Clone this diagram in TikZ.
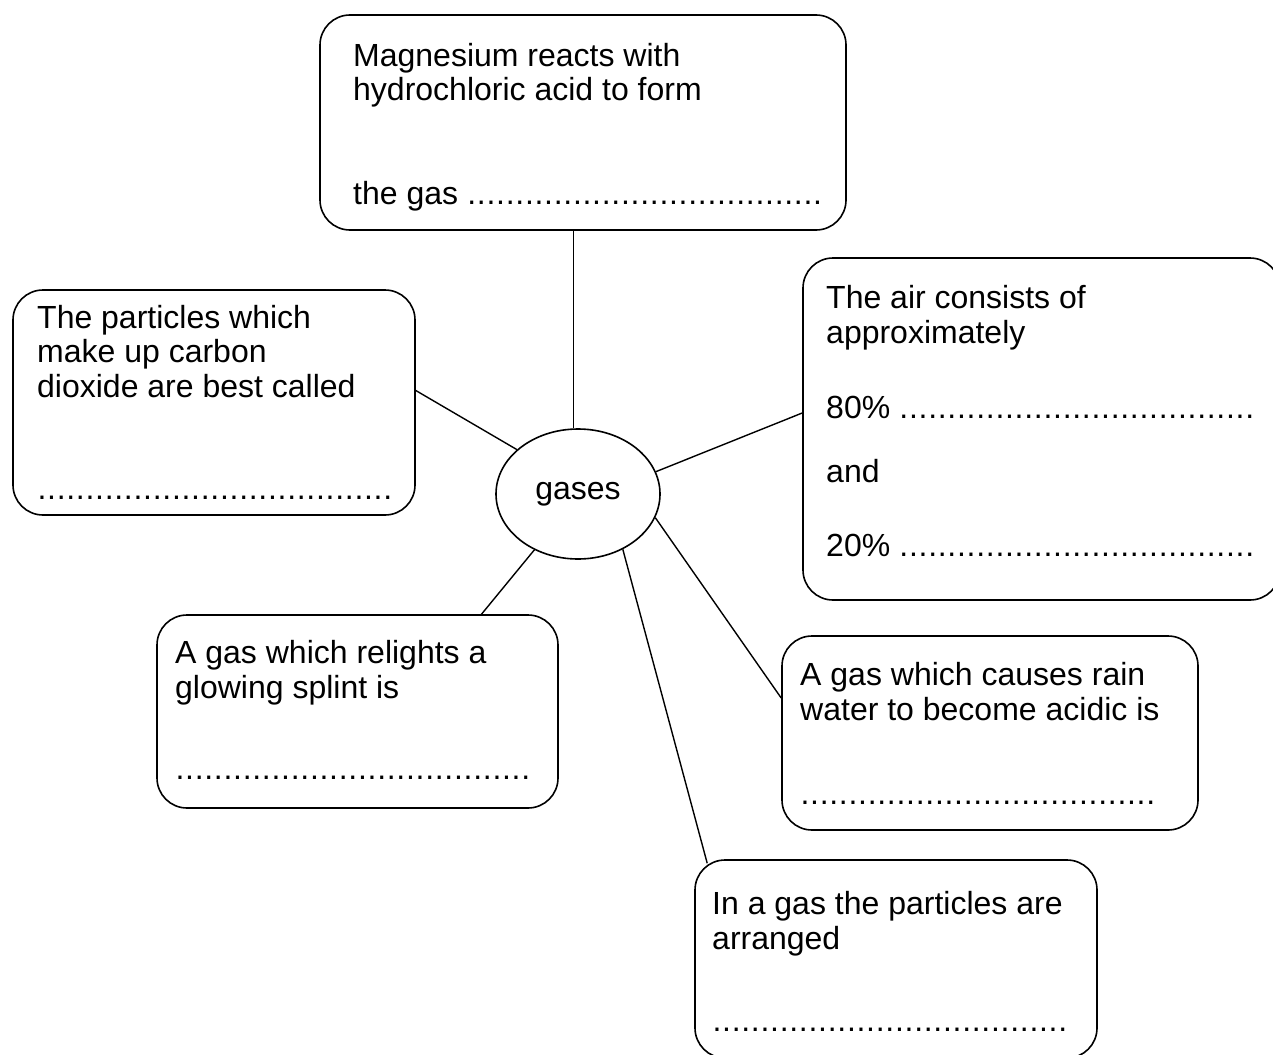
\documentclass[tikz,border=0pt]{standalone}
\usepackage{fontspec}
\setmainfont{Liberation Sans}
\usetikzlibrary{shapes}
\newcommand{\answerdots}[1]{\hbox to #1{\leaders\hbox to 9.6pt{\hss.\hss}\hfill}}
\tikzset{
  card/.style={draw, rounded corners=30pt, line width=1.6pt, inner sep=0pt},
  txt/.style={anchor=base west, align=left, inner sep=0pt},
  link/.style={line width=1.4pt}
}
\begin{document}
\begin{tikzpicture}[x=1pt, y=-1pt, font=\fontsize{32}{34.5}\selectfont]
    \useasboundingbox (0,0) rectangle (1273,1054);
    \clip (0,0) rectangle (1273,1054);

    \node (gas) [ellipse, draw, line width=1.6pt, minimum width=164pt,
        minimum height=130pt, inner sep=0pt] at (578,494) {\raisebox{-4pt}{gases}};

    % boxes round the topic
    \node (mg) [card, minimum width=526pt, minimum height=215pt] at (583,122.5) {};
    \node (particles) [card, minimum width=402pt, minimum height=225pt] at (214,402.5) {};
    \node (air) [card, minimum width=477pt, minimum height=342pt] at (1041.5,429) {};
    \node (splint) [card, minimum width=401pt, minimum height=193pt] at (357.5,711.5) {};
    \node (rain) [card, minimum width=416pt, minimum height=194pt] at (990,733) {};
    \node (arranged) [card, minimum width=402pt, minimum height=198pt] at (896,959) {};

    % base of a two-line text is its last line
    \node (mgtext) [txt] at (353,101) {Magnesium reacts with\\hydrochloric acid to form};
    \node (mgans) [txt] at (353,204) {the gas \answerdots{360pt}};

    \node (partext) [txt] at (37,397) {The particles which\\make up carbon\\dioxide are best called};
    \node (parans) [txt] at (37,499) {\answerdots{360pt}};

    \node (airtext) [txt] at (826,343) {The air consists of\\approximately};
    \node (airn) [txt] at (826,418) {80\% \answerdots{362pt}};
    \node (airand) [txt] at (826,482) {and};
    \node (airo) [txt] at (826,556) {20\% \answerdots{362pt}};

    \node (spltext) [txt] at (175,698) {A gas which relights a\\glowing splint is};
    \node (splans) [txt] at (175,779) {\answerdots{360pt}};

    \node (raintext) [txt] at (800,720) {A gas which causes rain\\water to become acidic is};
    \node (rainans) [txt] at (800,804) {\answerdots{358pt}};

    \node (arrtext) [txt] at (712,949) {In a gas the particles are\\arranged};
    \node (arrans) [txt] at (712,1031) {\answerdots{361pt}};

    % connectors
    \draw[link] (gas.94) -- (gas.94 |- mg.south);
    \draw[link] (gas.144) -- ([yshift=12pt]particles.east);
    \draw[link] (gas.16) -- ([yshift=16pt]air.west);
    \draw[link] (gas.232) -- ([xshift=124pt]splint.north);
    \draw[link] (gas.343) -- ([yshift=35pt]rain.west);
    \draw[link] (gas.309) -- ([shift={(13pt,-4pt)}]arranged.north west);
\end{tikzpicture}
\end{document}
